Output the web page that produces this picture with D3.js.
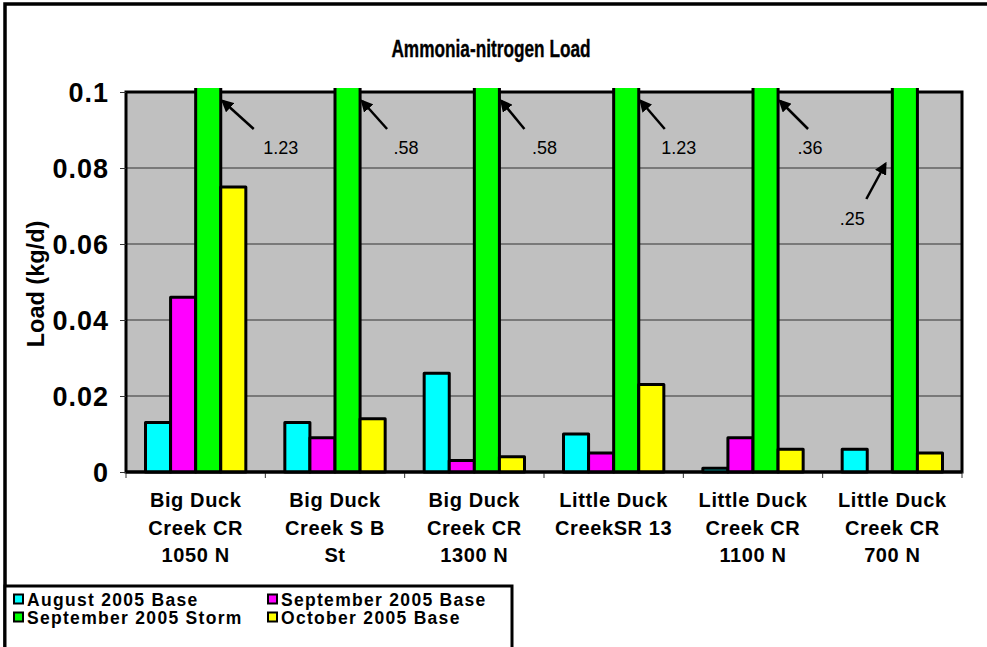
<!DOCTYPE html>
<html>
<head>
<meta charset="utf-8">
<script src="https://cdnjs.cloudflare.com/ajax/libs/d3/7.8.5/d3.min.js"></script>
<style>
  body { margin: 0; background: #fff; }
  text { font-family: "Liberation Sans", Arial, sans-serif; fill: #000; }
</style>
</head>
<body>
<svg></svg>
<script>
const width = 987;
const height = 647;

// data
const sites = [
    ["Big Duck", "Creek CR", "1050 N"],
    ["Big Duck", "Creek S B", "St"],
    ["Big Duck", "Creek CR", "1300 N"],
    ["Little Duck", "CreekSR 13"],
    ["Little Duck", "Creek CR", "1100 N"],
    ["Little Duck", "Creek CR", "700 N"]
];
const seriesNames = ["August 2005 Base", "September 2005 Base", "September 2005 Storm", "October 2005 Base"];
const seriesColors = ["#00ffff", "#ff00ff", "#00ff00", "#ffff00"];
const augBase = [0.013, 0.013, 0.026, 0.010, 0.001, 0.006];
const sepBase = [0.046, 0.009, 0.003, 0.005, 0.009, null];
const sepStorm = [1.23, 0.58, 0.58, 1.23, 0.36, 0.25];
const octBase = [0.075, 0.014, 0.004, 0.023, 0.006, 0.005];
const yTicks = [0, 0.02, 0.04, 0.06, 0.08, 0.1];

const series = [augBase, sepBase, sepStorm, octBase];

const margin = { top: 92, left: 126, right: 25, bottom: 175 };
const plotW = width - margin.left - margin.right;
const plotH = height - margin.top - margin.bottom;

const svg = d3.select("svg")
    .attr("width", width)
    .attr("height", height);

// outer frame (runs off the right and bottom of the picture)
svg.append("rect")
    .attr("x", 5).attr("y", 4)
    .attr("width", width + 20).attr("height", height + 20)
    .attr("fill", "#fff")
    .attr("stroke", "#000")
    .attr("stroke-width", 3.5);

svg.append("text")
    .attr("transform", "translate(491,57) scale(0.75,1)")
    .attr("text-anchor", "middle")
    .style("font-size", "23px")
    .style("font-weight", "bold")
    .style("stroke", "#000")
    .style("stroke-width", "0.35px")
    .text("Ammonia-nitrogen Load");

const g = svg.append("g")
    .attr("transform", `translate(${margin.left},${margin.top})`);

const x0 = d3.scaleBand()
    .domain(d3.range(sites.length))
    .range([0, plotW]);

const x1 = d3.scaleBand()
    .domain(d3.range(series.length))
    .range([19.5, x0.bandwidth() - 19.5]);

const y = d3.scaleLinear()
    .domain([0, 0.1])
    .range([plotH, 0]);

g.append("rect")
    .attr("width", plotW)
    .attr("height", plotH)
    .attr("fill", "#c0c0c0");

g.append("g")
    .selectAll("line")
    .data(yTicks.slice(1, -1))
    .enter().append("line")
    .attr("x1", 0).attr("x2", plotW)
    .attr("y1", d => y(d)).attr("y2", d => y(d))
    .attr("stroke", "#333")
    .attr("stroke-width", 1);

g.append("rect")
    .attr("width", plotW)
    .attr("height", plotH)
    .attr("fill", "none")
    .attr("stroke", "#000")
    .attr("stroke-width", 3);

// y axis
const yAxis = g.append("g")
    .call(d3.axisLeft(y).tickValues(yTicks).tickSize(6).tickFormat(d => String(d)));
yAxis.select(".domain").remove();
yAxis.selectAll(".tick line").attr("stroke", "#333");
yAxis.selectAll(".tick text")
    .attr("x", -17)
    .attr("dy", "0.36em")
    .style("font-size", "27px")
    .style("font-weight", "bold")
    .style("letter-spacing", "1px")
    .style("font-family", "'Liberation Sans', Arial, sans-serif");

// x axis ticks at category boundaries
g.append("g")
    .selectAll("line")
    .data(d3.range(sites.length + 1))
    .enter().append("line")
    .attr("x1", d => d * x0.bandwidth()).attr("x2", d => d * x0.bandwidth())
    .attr("y1", plotH).attr("y2", plotH + 6)
    .attr("stroke", "#333");

const xLabels = g.append("g")
    .selectAll("text")
    .data(sites)
    .enter().append("text")
    .attr("text-anchor", "middle")
    .attr("x", (d, i) => x0(i) + x0.bandwidth() / 2)
    .attr("y", plotH + 35)
    .style("font-size", "20px")
    .style("font-weight", "bold")
    .style("letter-spacing", "0.6px");
xLabels.selectAll("tspan")
    .data(d => d)
    .enter().append("tspan")
    .attr("x", function () { return this.parentNode.getAttribute("x"); })
    .attr("dy", (d, i) => i === 0 ? 0 : 27.5)
    .text(d => d);

svg.append("text")
    .attr("transform", `translate(44,${margin.top + plotH / 2 + 2}) rotate(-90)`)
    .attr("text-anchor", "middle")
    .style("font-size", "23.5px")
    .style("font-weight", "bold")
    .text("Load (kg/d)");

// bars, clipped a little above the plot top like the off-scale storm bars
svg.append("clipPath").attr("id", "clip")
    .append("rect")
    .attr("x", -10).attr("y", -4)
    .attr("width", plotW + 20).attr("height", plotH + 10);

const cells = [];
series.forEach((vals, s) => vals.forEach((v, i) => {
    if (v !== null) cells.push({ s, i, v });
}));

g.append("g")
    .attr("clip-path", "url(#clip)")
    .selectAll("rect")
    .data(cells)
    .enter().append("rect")
    .attr("x", d => x0(d.i) + x1(d.s))
    .attr("width", x1.bandwidth())
    .attr("y", d => Math.max(y(d.v), -10))
    .attr("height", d => plotH - Math.max(y(d.v), -10))
    .attr("fill", d => seriesColors[d.s])
    .attr("stroke", "#000")
    .attr("stroke-width", 3)
    .attr("stroke-linejoin", "round");

// bottom border drawn again over the bar bases
g.append("line")
    .attr("x1", 0).attr("x2", plotW)
    .attr("y1", plotH).attr("y2", plotH)
    .attr("stroke", "#000").attr("stroke-width", 3);

// arrows with the off-scale storm values
svg.append("defs").append("marker")
    .attr("id", "head")
    .attr("viewBox", "0 0 10 10")
    .attr("refX", 8).attr("refY", 5)
    .attr("markerWidth", 5).attr("markerHeight", 5)
    .attr("orient", "auto")
    .append("path")
    .attr("d", "M0,0 L10,5 L0,10 z")
    .attr("fill", "#000");

const fmt = v => d3.format(".2f")(v).replace(/^0/, "");
const stormIdx = 2;
// offsets from the bar edge: head, tail, text centre
const noteLayout = [
    { side: 1, hx: 2, hy: 9, tx: 33, ty: 37, lx: 60, ly: 62 },
    { side: 1, hx: 2, hy: 9, tx: 27, ty: 37, lx: 46, ly: 62 },
    { side: 1, hx: 2, hy: 9, tx: 25, ty: 37, lx: 45, ly: 62 },
    { side: 1, hx: 2, hy: 9, tx: 26, ty: 37, lx: 40, ly: 62 },
    { side: 1, hx: 2, hy: 9, tx: 30, ty: 37, lx: 32, ly: 62 },
    { side: -1, hx: 7, hy: 72, tx: 26, ty: 107, lx: 40, ly: 133 }
];
const notes = g.append("g")
    .selectAll("g")
    .data(sepStorm)
    .enter().append("g")
    .attr("transform", (d, i) => {
        const L = noteLayout[i];
        const edge = x0(i) + x1(stormIdx) + (L.side > 0 ? x1.bandwidth() : 0);
        return `translate(${edge},0)`;
    });
notes.append("line")
    .attr("x1", (d, i) => noteLayout[i].side * noteLayout[i].tx)
    .attr("y1", (d, i) => noteLayout[i].ty)
    .attr("x2", (d, i) => noteLayout[i].side * noteLayout[i].hx)
    .attr("y2", (d, i) => noteLayout[i].hy)
    .attr("stroke", "#000")
    .attr("stroke-width", 2.5)
    .attr("marker-end", "url(#head)");
notes.append("text")
    .attr("text-anchor", "middle")
    .attr("x", (d, i) => noteLayout[i].side * noteLayout[i].lx)
    .attr("y", (d, i) => noteLayout[i].ly)
    .style("font-size", "18px")
    .text(d => fmt(d));

// legend
const legend = svg.append("g");
legend.append("rect")
    .attr("x", 5).attr("y", 586)
    .attr("width", 507).attr("height", 100)
    .attr("fill", "#fff")
    .attr("stroke", "#000")
    .attr("stroke-width", 3);

const item = legend.selectAll("g.item")
    .data(seriesNames)
    .enter().append("g")
    .attr("class", "item")
    .attr("transform", (d, i) => `translate(${i % 2 === 0 ? 14 : 268},${i < 2 ? 599 : 617})`);
item.append("rect")
    .attr("x", 0).attr("y", -4.5)
    .attr("width", 9).attr("height", 9)
    .attr("fill", (d, i) => seriesColors[i])
    .attr("stroke", "#000")
    .attr("stroke-width", 2);
item.append("text")
    .attr("x", 13)
    .attr("y", 6.5)
    .style("font-size", "17.5px")
    .style("font-weight", "bold")
    .style("letter-spacing", "1.3px")
    .text(d => d);
</script>
</body>
</html>
